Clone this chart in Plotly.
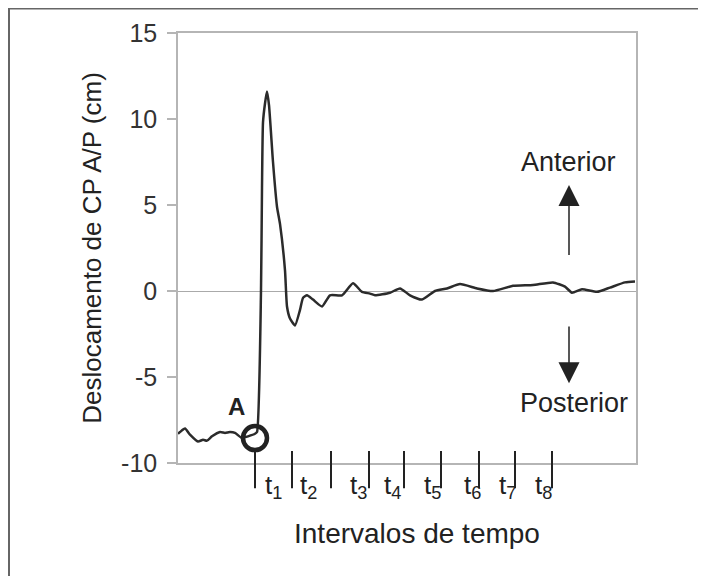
import plotly.graph_objects as go

# ---- data (time in arbitrary sample units, displacement in cm) ----
time = [0, 2, 7, 12, 20, 25, 29, 34, 42, 47, 52, 57, 64, 70, 77, 79, 83, 84, 85, 87, 89,
        91, 95, 99, 102, 107, 109, 112, 117, 122, 125, 129, 135, 144, 152, 164, 175, 184,
        192, 197, 212, 222, 232, 244, 257, 269, 282, 299, 315, 335, 355, 375, 387, 394,
        404, 419, 432, 447, 457]
cp_ap = [-8.3, -8.2, -8.0, -8.35, -8.75, -8.65, -8.7, -8.45, -8.2, -8.25, -8.2, -8.25, -8.55,
         -8.45, -8.3, -8.2, 0.0, 6.0, 9.8, 10.9, 11.6,
         10.8, 7.5, 4.9, 3.9, 1.2, -0.9, -1.6, -2.0, -1.1, -0.4, -0.25, -0.5, -0.9, -0.25,
         -0.25, 0.45, -0.05, -0.15, -0.25, -0.1, 0.15, -0.25, -0.5, 0.0, 0.15, 0.4, 0.15,
         0.0, 0.3, 0.35, 0.5, 0.25, -0.1, 0.1, -0.05, 0.2, 0.5, 0.55]
point_a_time = [77]
point_a_value = [-8.55]
interval_bounds = [77, 114, 153, 191, 226, 263, 301, 337, 374]
interval_label_pos = [95, 130, 180, 214, 254, 294, 329, 365]
interval_labels = ["t<sub>1</sub>", "t<sub>2</sub>", "t<sub>3</sub>", "t<sub>4</sub>",
                   "t<sub>5</sub>", "t<sub>6</sub>", "t<sub>7</sub>", "t<sub>8</sub>"]
bound_top, bound_bottom = -9.3, -11.55
y_ticks = [-10, -5, 0, 5, 10, 15]
y_tick_labels = ["-10", "-5", "0", "5", "10", "15"]

FONT = "Liberation Sans, Arial, sans-serif"
INK = "#222222"
GRAY = "#b5b5b5"

fig = go.Figure()
fig.add_trace(go.Scatter(x=time, y=cp_ap, mode="lines",
                         line=dict(color="#2b2b2b", width=2.5, shape="spline", smoothing=0.5),
                         hoverinfo="skip"))
fig.add_trace(go.Scatter(x=point_a_time, y=point_a_value, mode="markers",
                         marker=dict(symbol="circle-open", size=24,
                                     line=dict(color=INK, width=4.5), color=INK),
                         cliponaxis=False, hoverinfo="skip"))

ann = []
# interval boundary marks
for xb in interval_bounds:
    ann.append(dict(x=xb, y=bound_top, ax=xb, ay=bound_bottom, xref="x", yref="y",
                    axref="x", ayref="y", text="", showarrow=True, arrowhead=0,
                    arrowwidth=2, arrowcolor=INK, standoff=0, startstandoff=0))
# interval labels
for xl, lab in zip(interval_label_pos, interval_labels):
    ann.append(dict(x=xl, y=-10, xref="x", yref="y", text=lab, showarrow=False,
                    yanchor="top", yshift=-5, font=dict(family=FONT, size=26, color=INK)))
# A label
ann.append(dict(x=58.7, y=-6.73, xref="x", yref="y", text="<b>A</b>", showarrow=False,
                font=dict(family=FONT, size=24, color=INK)))
# direction arrows
ann.append(dict(x=391, y=6.16, ax=391, ay=2.0, xref="x", yref="y", axref="x", ayref="y",
                text="", showarrow=True, arrowhead=2, arrowsize=2.8, arrowwidth=1.5,
                arrowcolor=INK, standoff=0, startstandoff=0))
ann.append(dict(x=391, y=-5.37, ax=391, ay=-1.98, xref="x", yref="y", axref="x", ayref="y",
                text="", showarrow=True, arrowhead=2, arrowsize=2.8, arrowwidth=1.5,
                arrowcolor=INK, standoff=0, startstandoff=0))
ann.append(dict(x=390, y=7.5, xref="x", yref="y", text="Anterior", showarrow=False,
                font=dict(family=FONT, size=27, color=INK)))
ann.append(dict(x=396, y=-6.5, xref="x", yref="y", text="Posterior", showarrow=False,
                font=dict(family=FONT, size=27, color=INK)))
# x title
ann.append(dict(x=0.522, y=-0.205, xref="paper", yref="paper", text="Intervalos de tempo",
                showarrow=False, font=dict(family=FONT, size=28, color=INK)))

fig.update_layout(
    width=698, height=568,
    margin=dict(l=170, r=70, t=25, b=113),
    paper_bgcolor="white", plot_bgcolor="white",
    showlegend=False,
    annotations=ann,
    font=dict(family=FONT, color=INK),
    shapes=[dict(type="rect", xref="paper", yref="paper", x0=-0.369, x1=1.3,
                 y0=-0.4, y1=1.057, line=dict(color="#666666", width=2),
                 fillcolor="rgba(0,0,0,0)", layer="below")],
    xaxis=dict(range=[0, 458], showticklabels=False, ticks="", showgrid=False,
               zeroline=False, showline=True, linecolor=GRAY, linewidth=1.5, mirror=True,
               fixedrange=True),
    yaxis=dict(range=[-10, 15], tickvals=y_ticks, ticktext=y_tick_labels,
               ticks="outside", ticklen=9,
               tickcolor=GRAY, tickwidth=1.5, showgrid=False,
               zeroline=True, zerolinecolor="#aaaaaa", zerolinewidth=1.2,
               showline=True, linecolor=GRAY, linewidth=1.5, mirror=True,
               ticklabelstandoff=5,
               tickfont=dict(family=FONT, size=25, color="#333333"),
               title=dict(text="Deslocamento de CP A/P (cm)", standoff=12,
                          font=dict(family=FONT, size=26, color=INK)),
               fixedrange=True),
)

fig.write_html("out.html")
